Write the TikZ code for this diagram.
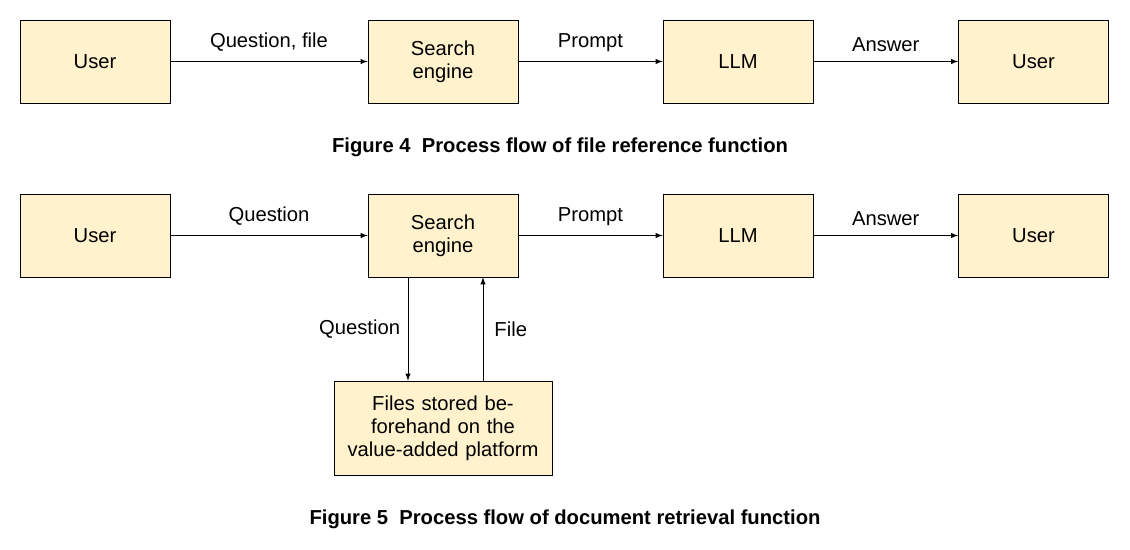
\documentclass[tikz,border=0pt]{standalone}
\usepackage{fontspec}
\setmainfont{Liberation Sans}
\usetikzlibrary{arrows,positioning,calc}
\definecolor{boxfill}{HTML}{FFF2CC}

\begin{document}
\begin{tikzpicture}[
    font=\fontsize{11.5}{13}\selectfont,
    box/.style={rectangle, draw, fill=boxfill, minimum width=3cm, minimum height=1.66cm, align=center, inner sep=1pt},
    flow/.style={->, >=latex},
    lbl/.style={midway, above=2pt}]
    \useasboundingbox (0,0) rectangle (22.6,11);

    % Figure 4
    \node[box] (user_a) at (1.9,9.77) {User};
    \node[box] (search_a) at (8.86,9.77) {Search\\engine};
    \node[box] (llm_a) at (14.76,9.77) {LLM};
    \node[box] (answer_a) at (20.67,9.77) {User};
    \draw[flow] (user_a) -- (search_a) node[lbl] {Question, file};
    \draw[flow] (search_a) -- (llm_a) node[lbl] {Prompt};
    \draw[flow] (llm_a) -- (answer_a) node[lbl] {Answer};
    \node[font=\fontsize{11.5}{13}\selectfont\bfseries] (cap_a) at (11.2,8.06) {Figure 4\ \ Process flow of file reference function};

    % Figure 5
    \node[box] (user_b) at (1.9,6.29) {User};
    \node[box] (search_b) at (8.86,6.29) {Search\\engine};
    \node[box] (llm_b) at (14.76,6.29) {LLM};
    \node[box] (answer_b) at (20.67,6.29) {User};
    \node[box, minimum width=4.36cm, minimum height=1.88cm, text width=4.2cm] (files) at (8.86,2.44) {Files stored beforehand on the value-added platform};
    \draw[flow] (user_b) -- (search_b) node[lbl] {Question};
    \draw[flow] (search_b) -- (llm_b) node[lbl] {Prompt};
    \draw[flow] (llm_b) -- (answer_b) node[lbl] {Answer};
    \draw[flow] ($(search_b.south)+(-0.7,0)$) -- ($(files.north)+(-0.7,0)$) node[midway, left=1pt] {Question};
    \draw[flow] ($(files.north)+(0.8,0)$) -- ($(search_b.south)+(0.8,0)$) node[midway, right=3pt] {File};
    \node[font=\fontsize{11.5}{13}\selectfont\bfseries] (cap_b) at (11.3,0.62) {Figure 5\ \ Process flow of document retrieval function};
\end{tikzpicture}
\end{document}
